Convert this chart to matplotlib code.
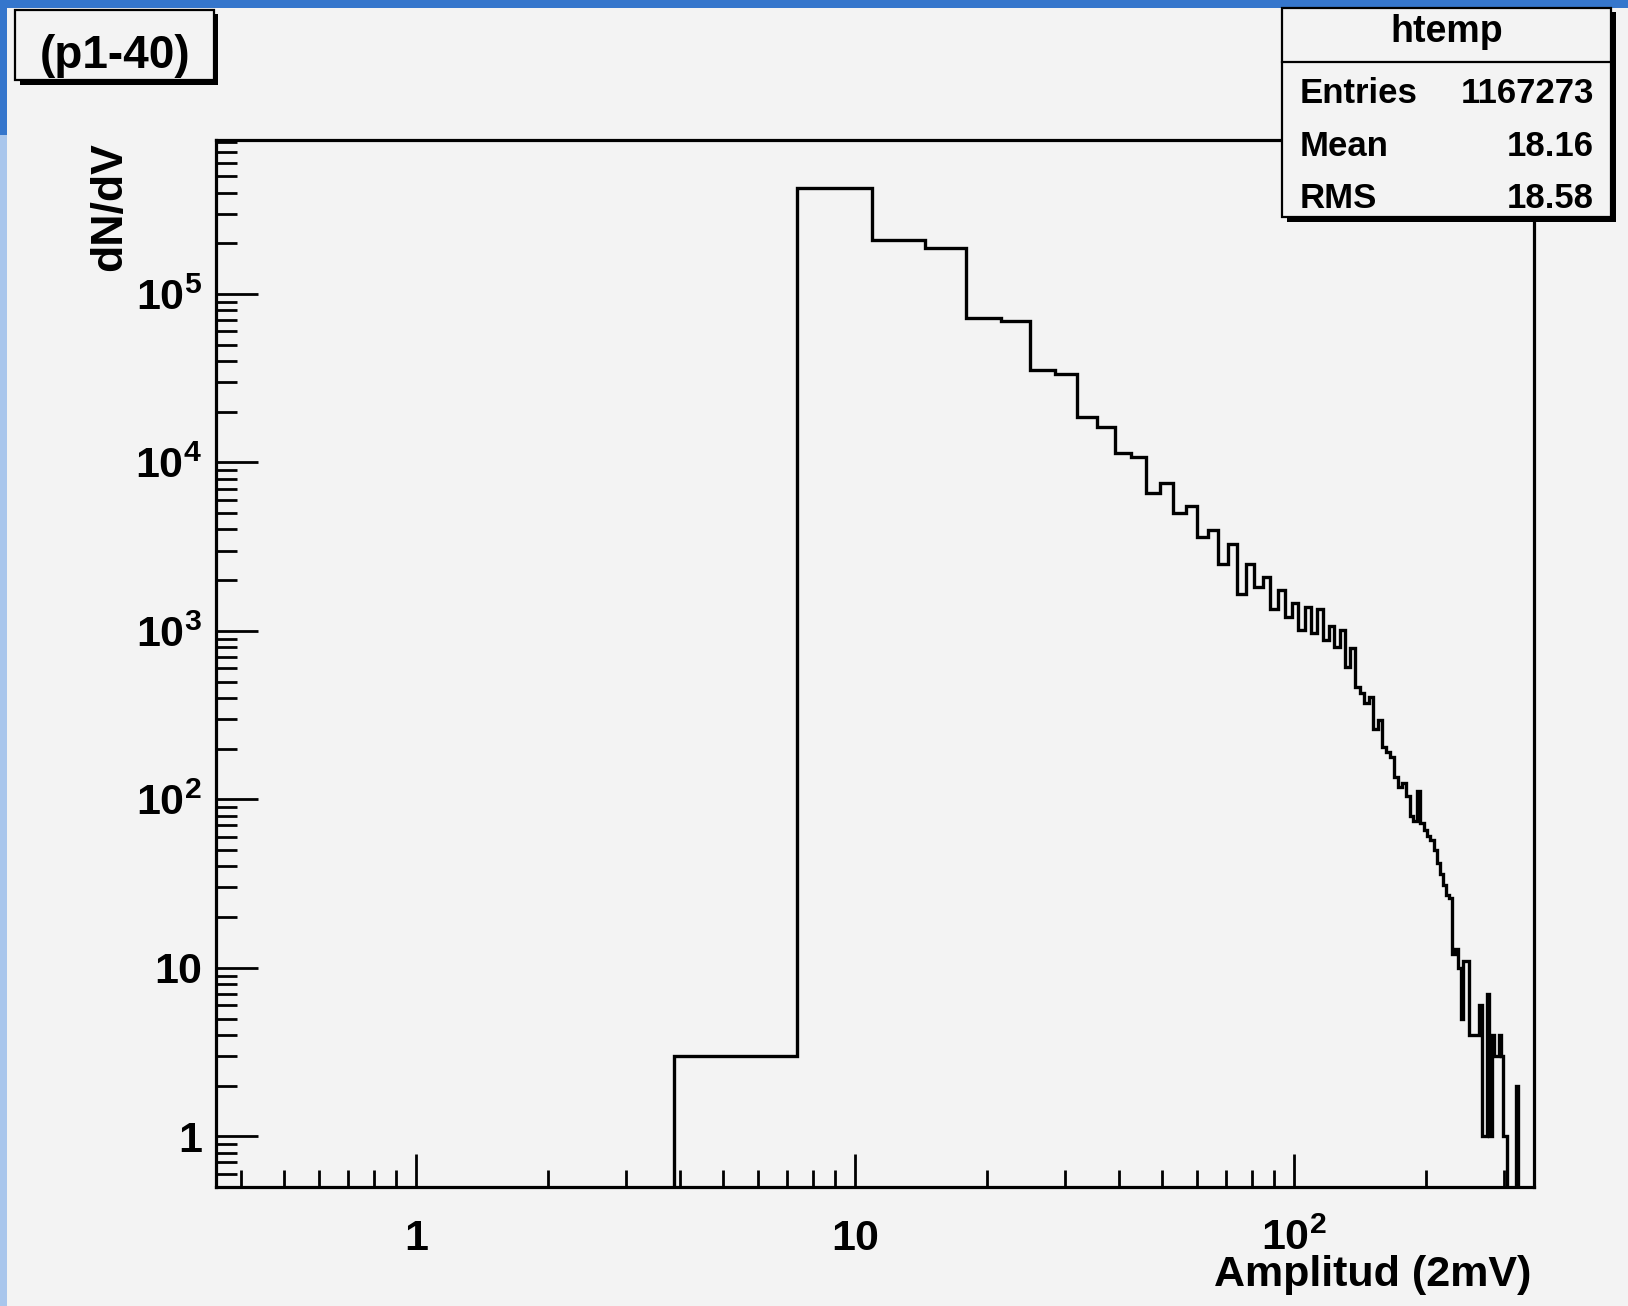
import numpy as np
import matplotlib
matplotlib.use("Agg")
import matplotlib.pyplot as plt
from matplotlib.patches import Rectangle
from matplotlib.lines import Line2D
from matplotlib.ticker import LogLocator, NullFormatter, FixedLocator, FixedFormatter

# ---------------- data ----------------
x_low, x_high = 0.35, 352.0      # histogram range (Amplitud, 2 mV units)
n_bins = 100
counts = [
    0, 3, 426000, 209000, 188000, 72200, 69000, 35300, 33400, 18700,
    16300, 11300, 10800, 6550, 7500, 5020, 5500, 3620, 3960, 2490,
    3300, 1650, 2490, 1820, 2090, 1340, 1750, 1210, 1460, 1010,
    1390, 966, 1340, 881, 1070, 804, 1010, 611, 787, 465,
    430, 371, 406, 263, 295, 205, 190, 179, 136, 119,
    125, 105, 80, 74, 112, 72, 66, 61, 57, 50,
    42, 36, 31, 27, 26, 12, 13, 10, 5, 11,
    11, 4, 4, 4, 4, 6, 1, 1, 7, 1,
    4, 3, 3, 4, 3, 1, 1, 0, 0, 0,
    0, 2, 0, 0, 0, 0, 0, 0, 0, 0,
]
y_low, y_high = 0.5, 8.2e5
x_tick_values = [1, 10, 100]
x_tick_labels = ["1", "10", r"$10^{2}$"]
y_tick_values = [1, 10, 100, 1000, 1e4, 1e5]
y_tick_labels = ["1", "10", r"$10^{2}$", r"$10^{3}$", r"$10^{4}$", r"$10^{5}$"]
stat_names = ["Entries", "Mean", "RMS"]
stat_values = ["1167273", "18.16", "18.58"]
hist_name = "htemp"
pad_label = "(p1-40)"
x_title = "Amplitud (2mV)"
y_title = "dN/dV"

# ---------------- style ----------------
plt.rcParams["font.family"] = ["Liberation Sans", "DejaVu Sans"]
plt.rcParams["font.weight"] = "bold"
plt.rcParams["mathtext.fontset"] = "custom"
plt.rcParams["mathtext.rm"] = "Liberation Sans:bold"
plt.rcParams["mathtext.it"] = "Liberation Sans:bold"
plt.rcParams["mathtext.bf"] = "Liberation Sans:bold"
plt.rcParams["mathtext.default"] = "rm"

W, H = 1628, 1306
DPI = 100
BG = "#f3f3f3"
fig = plt.figure(figsize=(W / DPI, H / DPI), dpi=DPI, facecolor=BG)

def fx(px):
    return px / W

def fy(py):
    return 1 - py / H

# blue frame of the slide
fig.add_artist(Rectangle((0, fy(8)), 1, 8 / H, transform=fig.transFigure,
                         facecolor="#3576cc", edgecolor="none", zorder=0))
fig.add_artist(Rectangle((0, fy(135)), 7 / W, 127 / H, transform=fig.transFigure,
                         facecolor="#3576cc", edgecolor="none", zorder=0))
fig.add_artist(Rectangle((0, 0), 7 / W, fy(135), transform=fig.transFigure,
                         facecolor="#a9c6ec", edgecolor="none", zorder=0))

# axes
ax_l, ax_r, ax_t, ax_b = 216, 1534, 140, 1187
ax = fig.add_axes([fx(ax_l), fy(ax_b), (ax_r - ax_l) / W, (ax_b - ax_t) / H])
ax.set_facecolor(BG)
ax.set_xscale("log")
ax.set_yscale("log")

edges = np.linspace(x_low, x_high, n_bins + 1)
vals = np.array(counts, dtype=float)
vals_plot = np.where(vals > 0, vals, y_low * 1e-3)
ax.stairs(vals_plot, edges, baseline=None, color="black", linewidth=2.4, zorder=3)

ax.set_xlim(x_low, x_high)
ax.set_ylim(y_low, y_high)

for s in ax.spines.values():
    s.set_linewidth(2.3)
    s.set_color("black")

ax.xaxis.set_major_locator(FixedLocator(x_tick_values))
ax.xaxis.set_major_formatter(FixedFormatter(x_tick_labels))
ax.xaxis.set_minor_locator(LogLocator(base=10, subs=np.arange(2, 10)))
ax.xaxis.set_minor_formatter(NullFormatter())
ax.yaxis.set_major_locator(FixedLocator(y_tick_values))
ax.yaxis.set_major_formatter(FixedFormatter(y_tick_labels))
ax.yaxis.set_minor_locator(LogLocator(base=10, subs=np.arange(2, 10), numticks=20))
ax.yaxis.set_minor_formatter(NullFormatter())

ax.tick_params(axis="x", which="major", direction="in", length=24, width=2,
               labelsize=31, pad=23, top=False)
ax.tick_params(axis="x", which="minor", direction="in", length=12, width=2, top=False)
ax.tick_params(axis="y", which="major", direction="in", length=30, width=2,
               labelsize=31, pad=10, right=False)
ax.tick_params(axis="y", which="minor", direction="in", length=15, width=2, right=False)

# axis titles
ax.text(0.9977, -(1286 - ax_b) / (ax_b - ax_t), x_title, transform=ax.transAxes,
        ha="right", va="baseline", fontsize=31, fontweight="bold")
fig.text(fx(110), fy(142), y_title, rotation=90, ha="center", va="top",
         fontsize=32, fontweight="bold")

# pad label box "(p1-40)"
fig.add_artist(Rectangle((fx(20), fy(85)), 198 / W, 71 / H, transform=fig.transFigure,
                         facecolor="black", edgecolor="none", zorder=5))
fig.add_artist(Rectangle((fx(15), fy(80)), 199 / W, 70 / H, transform=fig.transFigure,
                         facecolor=BG, edgecolor="black", linewidth=1.6, zorder=6))
fig.text(fx(115), fy(68), pad_label, ha="center", va="baseline", fontsize=33,
         fontweight="bold", zorder=7)

# statistics box
fig.add_artist(Rectangle((fx(1287), fy(222)), 329 / W, 210 / H, transform=fig.transFigure,
                         facecolor="black", edgecolor="none", zorder=5))
fig.add_artist(Rectangle((fx(1282), fy(217)), 329 / W, 209 / H, transform=fig.transFigure,
                         facecolor=BG, edgecolor="black", linewidth=1.6, zorder=6))
fig.add_artist(Line2D([fx(1282), fx(1611)], [fy(62), fy(62)], transform=fig.transFigure,
                      color="black", linewidth=1.6, zorder=7))
fig.text(fx(1447), fy(42), hist_name, ha="center", va="baseline", fontsize=27,
         fontweight="bold", zorder=7)
row_base = [103, 156, 208]
for name, val, yb in zip(stat_names, stat_values, row_base):
    fig.text(fx(1300), fy(yb), name, ha="left", va="baseline", fontsize=25,
             fontweight="bold", zorder=7)
    fig.text(fx(1594), fy(yb), val, ha="right", va="baseline", fontsize=25,
             fontweight="bold", zorder=7)

fig.savefig("out.png", dpi=DPI, facecolor=BG)
